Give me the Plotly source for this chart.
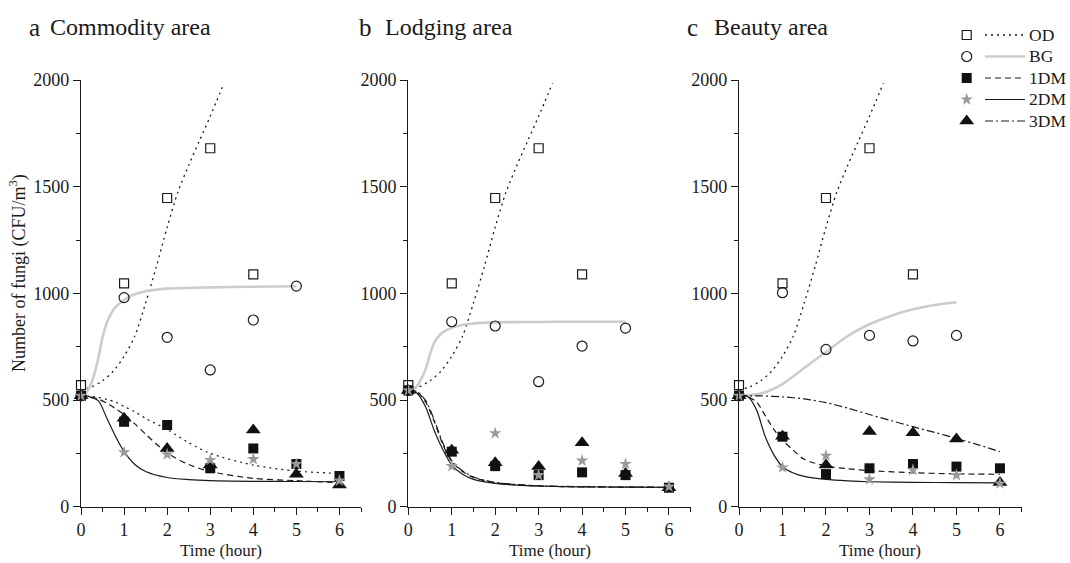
import plotly.graph_objects as go

# ---------------- data ----------------
hours = [0, 1, 2, 3, 4, 5, 6]
od_hours = [0, 1, 2, 3, 4]
bg_hours = [0, 1, 2, 3, 4, 5]

# OD (same outdoor data in every panel)
od_vals = [570, 1047, 1447, 1680, 1089]
od_fit_x = [0, 0.25, 0.5, 0.75, 1.0, 1.25, 1.5, 1.75, 2.0, 2.25, 2.5, 2.75, 3.0, 3.32]
od_fit_y = [545, 562, 590, 635, 705, 800, 955, 1125, 1310, 1475, 1600, 1715, 1830, 1985]

dec_x = [0, 0.2, 0.4, 0.6, 0.8, 1.0, 1.25, 1.5, 2, 2.5, 3, 4, 5, 6]

# a  Commodity area
bg_a = [520, 980, 794, 641, 875, 1034]
dm1_a = [520, 398, 383, 180, 273, 200, 144]
dm2_a = [520, 255, 245, 219, 223, 200, 122]
dm3_a = [520, 415, 273, 195, 359, 152, 102]
bg_fit_x_a = [0, 0.1, 0.2, 0.3, 0.4, 0.5, 0.6, 0.7, 0.8, 1.0, 1.2, 1.5, 2, 3, 4, 5]
bg_fit_a = [520, 530, 560, 615, 695, 795, 862, 905, 935, 968, 992, 1010, 1022, 1028, 1031, 1033]
dm1_fit_a = [520, 515, 505, 485, 460, 432, 388, 340, 252, 198, 165, 133, 122, 112]
dm2_fit_a = [520, 515, 497, 415, 330, 258, 198, 165, 137, 127, 122, 119, 118, 117]
dm3_fit_x_a = dec_x
dm3_fit_a = [520, 518, 512, 503, 490, 470, 445, 414, 362, 300, 250, 195, 167, 156]

# b  Lodging area
bg_b = [545, 867, 847, 586, 753, 837]
dm1_b = [545, 258, 190, 148, 161, 148, 89]
dm2_b = [545, 190, 344, 148, 216, 200, 94]
dm3_b = [545, 265, 206, 188, 300, 156, 89]
bg_fit_x_b = [0, 0.1, 0.2, 0.3, 0.4, 0.5, 0.6, 0.7, 0.8, 1.0, 1.2, 1.5, 2, 3, 4, 5]
bg_fit_b = [548, 552, 565, 600, 645, 715, 770, 800, 818, 838, 850, 859, 864, 866, 867, 867]
dm1_fit_b = [545, 538, 490, 398, 289, 211, 165, 137, 112, 103, 97, 93, 92, 91]
dm2_fit_b = [545, 532, 467, 355, 266, 195, 152, 128, 109, 101, 97, 93, 92, 91]
dm3_fit_x_b = dec_x
dm3_fit_b = [545, 540, 497, 405, 296, 216, 168, 139, 114, 104, 98, 94, 92, 91]

# c  Beauty area
bg_c = [520, 1003, 737, 803, 777, 803]
dm1_c = [520, 328, 153, 180, 200, 188, 180]
dm2_c = [520, 184, 239, 128, 172, 148, 109]
dm3_c = [520, 330, 195, 352, 347, 317, 114]
bg_fit_x_c = [0, 0.5, 1, 1.5, 2, 2.5, 3, 3.5, 4, 4.5, 5]
bg_fit_c = [520, 530, 575, 650, 725, 800, 855, 895, 925, 945, 958]
dm1_fit_c = [520, 514, 492, 428, 362, 312, 264, 222, 191, 178, 169, 159, 154, 152]
dm2_fit_c = [520, 516, 455, 330, 244, 187, 158, 142, 128, 121, 117, 114, 113, 112]
dm3_fit_x_c = [0, 0.5, 1, 1.5, 2, 2.5, 3, 3.5, 4, 4.5, 5, 5.5, 6]
dm3_fit_c = [520, 519, 515, 505, 488, 462, 432, 403, 375, 348, 320, 290, 258]

panel_letters = ["a", "b", "c"]
panel_names = ["Commodity area", "Lodging area", "Beauty area"]
series_names = ["OD", "BG", "1DM", "2DM", "3DM"]
x_title = "Time (hour)"
y_title = "Number of fungi (CFU/m<sup>3</sup>)"

panels = [
    dict(bg=bg_a, dm1=dm1_a, dm2=dm2_a, dm3=dm3_a, bgfx=bg_fit_x_a, bgf=bg_fit_a,
         dm1f=dm1_fit_a, dm2f=dm2_fit_a, dm3fx=dm3_fit_x_a, dm3f=dm3_fit_a, dm3dash="2px,4px"),
    dict(bg=bg_b, dm1=dm1_b, dm2=dm2_b, dm3=dm3_b, bgfx=bg_fit_x_b, bgf=bg_fit_b,
         dm1f=dm1_fit_b, dm2f=dm2_fit_b, dm3fx=dm3_fit_x_b, dm3f=dm3_fit_b, dm3dash="8px,3px,2px,3px"),
    dict(bg=bg_c, dm1=dm1_c, dm2=dm2_c, dm3=dm3_c, bgfx=bg_fit_x_c, bgf=bg_fit_c,
         dm1f=dm1_fit_c, dm2f=dm2_fit_c, dm3fx=dm3_fit_x_c, dm3f=dm3_fit_c, dm3dash="8px,3px,2px,3px"),
]

# ---------------- styles ----------------
W, H = 1070, 563
FONT = "Liberation Serif"
INK = "#1a1a1a"
x_domains_px = [(81, 361), (408.3, 690.7), (739, 1021.7)]
y_domain_px = (80, 506.7)  # top, bottom (from top of page)

styles = {
    "OD": dict(marker=dict(symbol="square-open", size=9, color=INK, line=dict(width=1.2)),
               line=dict(color=INK, width=1.3, dash="2px,4px")),
    "BG": dict(marker=dict(symbol="circle-open", size=10, color=INK, line=dict(width=1.2)),
               line=dict(color="#cccccc", width=2.6)),
    "1DM": dict(marker=dict(symbol="square", size=10, color="#111111"),
                line=dict(color=INK, width=1.2, dash="6px,4px")),
    "2DM": dict(marker=dict(symbol="star", size=9.5, color="#9a9a9a"),
                line=dict(color=INK, width=1.2)),
    "3DM": dict(marker=dict(symbol="triangle-up", size=13, color="#111111"),
                line=dict(color=INK, width=1.2, dash="8px,3px,2px,3px")),
}

fig = go.Figure()

for i, p in enumerate(panels):
    xa = "x" if i == 0 else f"x{i+1}"
    ya = "y" if i == 0 else f"y{i+1}"
    fits = [
        (od_fit_x, od_fit_y, styles["OD"]["line"]),
        (p["bgfx"], p["bgf"], styles["BG"]["line"]),
        (p["dm3fx"], p["dm3f"], dict(styles["3DM"]["line"], dash=p["dm3dash"])),
        (dec_x, p["dm1f"], styles["1DM"]["line"]),
        (dec_x, p["dm2f"], styles["2DM"]["line"]),
    ]
    for fx, fy, ln in fits:
        fig.add_trace(go.Scatter(x=fx, y=fy, mode="lines", line=dict(ln, shape="spline", smoothing=0.8),
                                 xaxis=xa, yaxis=ya, showlegend=False, hoverinfo="skip"))
    pts = [
        (od_hours, od_vals, "OD"),
        (bg_hours, p["bg"], "BG"),
        (hours, p["dm1"], "1DM"),
        (hours, p["dm3"], "3DM"),
        (hours, p["dm2"], "2DM"),
    ]
    for px_, py_, nm in pts:
        fig.add_trace(go.Scatter(x=px_, y=py_, mode="markers", marker=styles[nm]["marker"],
                                 xaxis=xa, yaxis=ya, showlegend=False, cliponaxis=False, name=nm))

tickfont = dict(family=FONT, size=18, color=INK)
y_dom = [(H - y_domain_px[1]) / H, (H - y_domain_px[0]) / H]
layout_axes = {}
for i, (x0, x1) in enumerate(x_domains_px):
    sx = "xaxis" if i == 0 else f"xaxis{i+1}"
    sy = "yaxis" if i == 0 else f"yaxis{i+1}"
    layout_axes[sx] = dict(
        domain=[x0 / W, x1 / W], range=[0, 6.5], tick0=0, dtick=1, anchor="y" if i == 0 else f"y{i+1}",
        ticks="outside", ticklen=7, tickwidth=1.2, tickcolor=INK, automargin=False,
        showline=True, linecolor=INK, linewidth=1.2, showgrid=False, zeroline=False,
        tickfont=tickfont, fixedrange=True,
        minor=dict(tick0=0, dtick=0.5, ticks="outside", ticklen=4, tickwidth=1.2, tickcolor=INK, showgrid=False),
    )
    layout_axes[sy] = dict(
        domain=y_dom, range=[0, 2000], tick0=0, dtick=500, anchor="x" if i == 0 else f"x{i+1}",
        ticks="outside", ticklen=7, tickwidth=1.2, tickcolor=INK, automargin=False,
        showline=True, linecolor=INK, linewidth=1.2, showgrid=False, zeroline=False,
        tickfont=tickfont, fixedrange=True,
        minor=dict(tick0=0, dtick=250, ticks="outside", ticklen=4, tickwidth=1.2, tickcolor=INK, showgrid=False),
    )

# legend panel (coordinates in pixels relative to its box)
leg_left_px = 955
layout_axes["xaxis4"] = dict(domain=[leg_left_px / W, 1], range=[0, W - leg_left_px], visible=False,
                             anchor="y4", fixedrange=True, automargin=False)
layout_axes["yaxis4"] = dict(domain=[(H - 135) / H, (H - 20) / H], range=[135, 20], visible=False,
                             anchor="x4", fixedrange=True, automargin=False)
leg_rows = [35, 56.5, 78, 99.5, 121]
leg_marker_x = 11.7
leg_line_x = [30, 70]
leg_text_x = 72

annotations = []
for nm, ry in zip(series_names, leg_rows):
    st = styles[nm]
    fig.add_trace(go.Scatter(x=leg_line_x, y=[ry, ry], mode="lines", line=st["line"],
                             xaxis="x4", yaxis="y4", showlegend=False, hoverinfo="skip"))
    fig.add_trace(go.Scatter(x=[leg_marker_x], y=[ry], mode="markers", marker=st["marker"],
                             xaxis="x4", yaxis="y4", showlegend=False, hoverinfo="skip", cliponaxis=False))
    annotations.append(dict(x=leg_text_x, y=ry, xref="x4", yref="y4", text=nm, showarrow=False,
                            xanchor="left", yanchor="middle", font=dict(family=FONT, size=17.5, color=INK)))

# panel titles
title_letter_px = [27, 357, 685]
title_name_px = [48, 383, 712]
for L, N, lx, nx in zip(panel_letters, panel_names, title_letter_px, title_name_px):
    annotations.append(dict(x=lx / W, y=1 - 27 / H, xref="paper", yref="paper", text=L, showarrow=False,
                            xanchor="left", yanchor="middle", font=dict(family=FONT, size=25, color=INK)))
    annotations.append(dict(x=nx / W, y=1 - 27 / H, xref="paper", yref="paper", text=N, showarrow=False,
                            xanchor="left", yanchor="middle", font=dict(family=FONT, size=24, color=INK)))

# axis titles
for (x0, x1) in x_domains_px:
    annotations.append(dict(x=(x0 + x1) / 2 / W, y=1 - 550 / H, xref="paper", yref="paper", text=x_title,
                            showarrow=False, xanchor="center", yanchor="middle",
                            font=dict(family=FONT, size=17, color=INK)))
annotations.append(dict(x=18 / W, y=1 - 273 / H, xref="paper", yref="paper", text=y_title, textangle=-90,
                        showarrow=False, xanchor="center", yanchor="middle",
                        font=dict(family=FONT, size=18, color=INK)))

fig.update_layout(
    width=W, height=H, margin=dict(l=0, r=0, t=0, b=0, pad=0, autoexpand=False),
    paper_bgcolor="white", plot_bgcolor="white",
    showlegend=False, annotations=annotations, **layout_axes,
)

fig.write_html("out.html", config={"displayModeBar": False},
               post_script="document.body.style.margin='0';document.body.style.overflow='hidden';")
